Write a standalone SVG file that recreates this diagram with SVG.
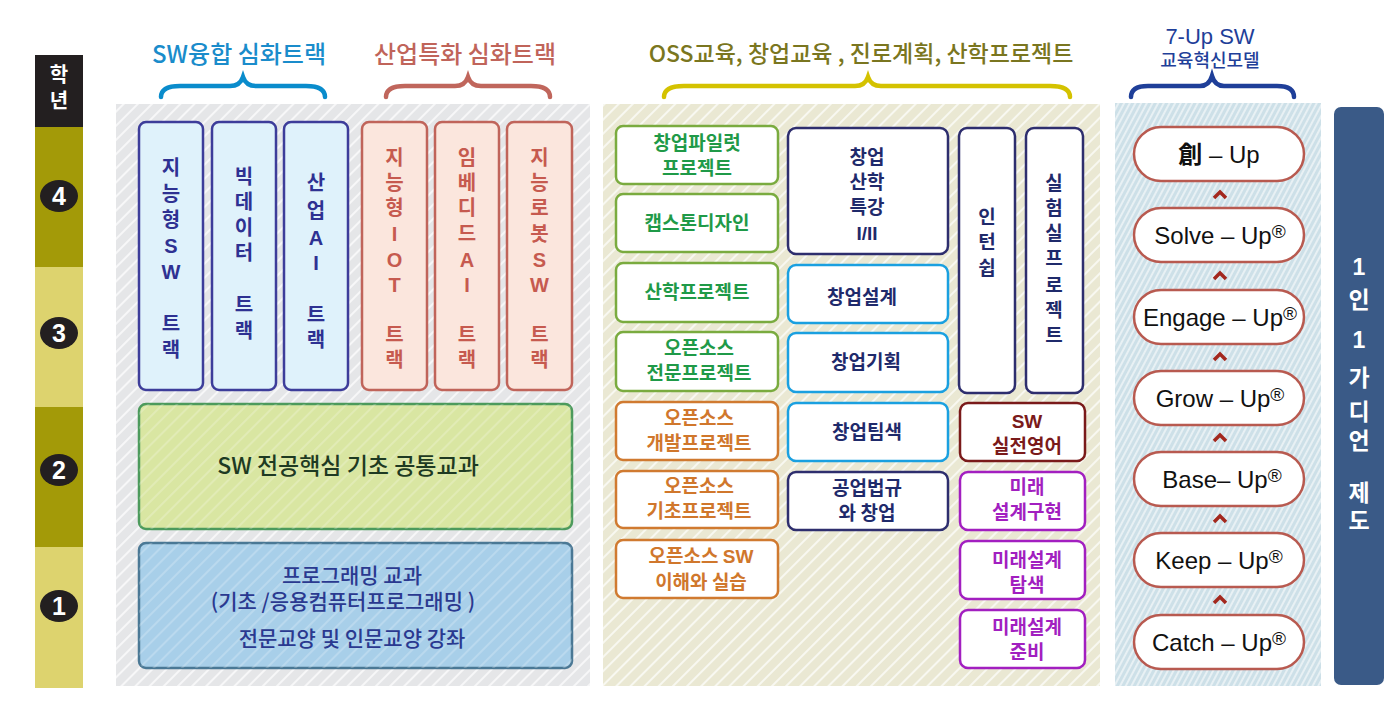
<svg xmlns="http://www.w3.org/2000/svg" width="1396" height="718" viewBox="0 0 1396 718">
<style>
text{font-family:"Noto Sans CJK KR","Liberation Sans",sans-serif;text-anchor:middle}
.lat{font-family:"Liberation Sans","Noto Sans CJK KR",sans-serif}
.hd{font-size:24px;font-weight:500}
.trk{font-size:20px;font-weight:bold}
.tb{fill:#2e3192}
.tr{fill:#c65a4f}
.bx{font-size:19px;font-weight:bold}
.g{fill:#1f9a48}
.o{fill:#d0772c}
.n{fill:#1f2a6b}
.m{fill:#7a1a1a}
.p{fill:#a21fc0}
.rg{fill:#fff;stroke:#7aab3f;stroke-width:2.5}
.ro{fill:#fff;stroke:#d07a30;stroke-width:2.5}
.rn{fill:#fff;stroke:#2e2e6e;stroke-width:2.5}
.rc{fill:#fff;stroke:#1aa0e0;stroke-width:2.5}
.rm{fill:#fff;stroke:#7a1a1a;stroke-width:2.5}
.rp{fill:#fff;stroke:#a21fc0;stroke-width:2.5}
.pill{fill:#fff;stroke:#b85a50;stroke-width:2.5}
.pt{font-family:"Liberation Sans","Noto Sans CJK KR",sans-serif;font-size:24px;fill:#111}
.reg{font-size:19px}
.chev{fill:none;stroke:#a3281e;stroke-width:3.5}
.brace{fill:none;stroke-width:4.5;stroke-linecap:round}
.wt{fill:#fff;font-weight:bold}
</style>
<defs>
<pattern id="hg" width="10" height="10" patternUnits="userSpaceOnUse" patternTransform="rotate(45)"><rect width="10" height="10" fill="#e5e6e8"/><line x1="1" y1="0" x2="1" y2="10" stroke="#fff" stroke-width="1.4"/></pattern>
<pattern id="hy" width="10" height="10" patternUnits="userSpaceOnUse" patternTransform="rotate(45)"><rect width="10" height="10" fill="#eae8d3"/><line x1="1" y1="0" x2="1" y2="10" stroke="#fff" stroke-width="1.4"/></pattern>
<pattern id="hb" width="5" height="10" patternUnits="userSpaceOnUse" patternTransform="rotate(28)"><rect width="5" height="10" fill="#cde0e8"/><line x1="1" y1="0" x2="1" y2="10" stroke="#fff" stroke-width="1.1"/></pattern>
<pattern id="hl" width="10" height="10" patternUnits="userSpaceOnUse" patternTransform="rotate(45)"><line x1="1" y1="0" x2="1" y2="10" stroke="#fff" stroke-width="1.2" stroke-opacity="0.35"/></pattern>
</defs>
<rect width="1396" height="718" fill="#fff"/>

<g id="year-column">
<rect x="35" y="55" width="48" height="72" fill="#231f20"/>
<text x="59" y="82" class="wt" style="font-size:20px">학</text>
<text x="59" y="108" class="wt" style="font-size:20px">년</text>
<rect x="35" y="127" width="48" height="140" fill="#a39a08"/>
<rect x="35" y="267" width="48" height="140" fill="#ddd36e"/>
<rect x="35" y="407" width="48" height="140" fill="#a39a08"/>
<rect x="35" y="547" width="48" height="141" fill="#ddd36e"/>
<ellipse cx="59" cy="196" rx="19" ry="16" fill="#231f20"/><text x="59" y="205" class="wt lat" style="font-size:25px">4</text>
<ellipse cx="59" cy="333" rx="19" ry="16" fill="#231f20"/><text x="59" y="342" class="wt lat" style="font-size:25px">3</text>
<ellipse cx="59" cy="470" rx="19" ry="16" fill="#231f20"/><text x="59" y="479" class="wt lat" style="font-size:25px">2</text>
<ellipse cx="59" cy="606" rx="19" ry="16" fill="#231f20"/><text x="59" y="615" class="wt lat" style="font-size:25px">1</text>
</g>

<g id="panels">
<rect x="116" y="104" width="474" height="582" fill="url(#hg)"/>
<rect x="603" y="104" width="497" height="582" fill="url(#hy)"/>
<rect x="1115" y="103" width="206" height="583" fill="url(#hb)"/>
</g>

<g id="headers">
<text x="239" y="63" class="hd" fill="#1a8ccb">SW융합 심화트랙</text>
<path class="brace" stroke="#0a8ccc" d="M161,97 Q161,86 180,86 L230,86 Q240,86 243,77 Q246,86 256,86 L306,86 Q325,86 325,97"/>
<text x="465" y="63" class="hd" fill="#c0645a">산업특화 심화트랙</text>
<path class="brace" stroke="#c0665c" d="M386,97 Q386,86 405,86 L455,86 Q465,86 468,77 Q471,86 481,86 L531,86 Q550,86 550,97"/>
<text x="861" y="62" class="hd" fill="#7a7620" style="font-size:23px">OSS교육, 창업교육 , 진로계획, 산학프로젝트</text>
<path class="brace" stroke="#d4c200" d="M664,97 Q664,86 684,86 L855,86 Q865,86 868,77 Q871,86 881,86 L1050,86 Q1070,86 1070,97"/>
<text x="1210" y="44" class="hd lat" fill="#1f3f99" style="font-size:22px">7-Up SW</text>
<text x="1210" y="67" class="hd" fill="#1f3f99" style="font-size:18px">교육혁신모델</text>
<path class="brace" stroke="#1f3f99" d="M1131,97 Q1131,86 1148,86 L1200,86 Q1209,86 1212,76 Q1215,86 1224,86 L1277,86 Q1294,86 1294,97"/>
</g>

<g id="track-intelligent-sw">
<rect x="139" y="122" width="64" height="268" rx="7" fill="#dff2fb" stroke="#3d3d9a" stroke-width="2.5"/>
<text class="trk tb"><tspan x="171" y="175">지</tspan><tspan x="171" y="201">능</tspan><tspan x="171" y="227">형</tspan><tspan x="171" y="253" class="lat">S</tspan><tspan x="171" y="279" class="lat">W</tspan><tspan x="171" y="331">트</tspan><tspan x="171" y="357">랙</tspan></text>
</g>
<g id="track-bigdata">
<rect x="212" y="122" width="64" height="268" rx="7" fill="#dff2fb" stroke="#3d3d9a" stroke-width="2.5"/>
<text class="trk tb"><tspan x="244" y="184">빅</tspan><tspan x="244" y="209">데</tspan><tspan x="244" y="235">이</tspan><tspan x="244" y="260">터</tspan><tspan x="244" y="312">트</tspan><tspan x="244" y="338">랙</tspan></text>
</g>
<g id="track-industrial-ai">
<rect x="284" y="122" width="64" height="268" rx="7" fill="#dff2fb" stroke="#3d3d9a" stroke-width="2.5"/>
<text class="trk tb"><tspan x="316" y="190">산</tspan><tspan x="316" y="218">업</tspan><tspan x="316" y="245" class="lat">A</tspan><tspan x="316" y="270" class="lat">I</tspan><tspan x="316" y="322">트</tspan><tspan x="316" y="347">랙</tspan></text>
</g>
<g id="track-iot">
<rect x="362" y="122" width="65" height="268" rx="7" fill="#fbe6dd" stroke="#c0645a" stroke-width="2.5"/>
<text class="trk tr"><tspan x="394.5" y="165">지</tspan><tspan x="394.5" y="190">능</tspan><tspan x="394.5" y="215">형</tspan><tspan x="394.5" y="241" class="lat">I</tspan><tspan x="394.5" y="267" class="lat">O</tspan><tspan x="394.5" y="292" class="lat">T</tspan><tspan x="394.5" y="342">트</tspan><tspan x="394.5" y="367">랙</tspan></text>
</g>
<g id="track-embedded-ai">
<rect x="435" y="122" width="64" height="268" rx="7" fill="#fbe6dd" stroke="#c0645a" stroke-width="2.5"/>
<text class="trk tr"><tspan x="467" y="165">임</tspan><tspan x="467" y="190">베</tspan><tspan x="467" y="215">디</tspan><tspan x="467" y="241">드</tspan><tspan x="467" y="267" class="lat">A</tspan><tspan x="467" y="292" class="lat">I</tspan><tspan x="467" y="342">트</tspan><tspan x="467" y="367">랙</tspan></text>
</g>
<g id="track-robot-sw">
<rect x="507" y="122" width="65" height="268" rx="7" fill="#fbe6dd" stroke="#c0645a" stroke-width="2.5"/>
<text class="trk tr"><tspan x="539.5" y="165">지</tspan><tspan x="539.5" y="190">능</tspan><tspan x="539.5" y="215">로</tspan><tspan x="539.5" y="241">봇</tspan><tspan x="539.5" y="267" class="lat">S</tspan><tspan x="539.5" y="292" class="lat">W</tspan><tspan x="539.5" y="342">트</tspan><tspan x="539.5" y="367">랙</tspan></text>
</g>

<g id="sw-core-common">
<rect x="139" y="404" width="433" height="125" rx="7" fill="#d9e6a2" stroke="#4c9a5c" stroke-width="2.5"/>
<rect x="139" y="404" width="433" height="125" rx="7" fill="url(#hl)"/>
<text x="348" y="474" style="font-size:23px;font-weight:500" fill="#1e3a22">SW 전공핵심 기초 공통교과</text>
</g>
<g id="programming">
<rect x="139" y="543" width="433" height="125" rx="7" fill="#a8cfe9" stroke="#4a7895" stroke-width="2.5"/>
<rect x="139" y="543" width="433" height="125" rx="7" fill="url(#hl)"/>
<text x="352" y="583" style="font-size:21px;font-weight:500" fill="#2a3990">프로그래밍 교과</text>
<text x="343" y="609" style="font-size:21px;font-weight:500" fill="#2a3990">(기초 /응용컴퓨터프로그래밍 )</text>
<text x="352" y="646" style="font-size:21px;font-weight:500" fill="#2a3990">전문교양 및 인문교양 강좌</text>
</g>

<g id="startup-pilot"><rect x="616" y="126" width="162" height="58" rx="7" class="rg"/><text class="bx g"><tspan x="697" y="150">창업파일럿</tspan><tspan x="697" y="175">프로젝트</tspan></text></g>
<g id="capstone"><rect x="616" y="194" width="162" height="58" rx="7" class="rg"/><text x="697" y="230" class="bx g">캡스톤디자인</text></g>
<g id="industry-project"><rect x="616" y="263" width="162" height="59" rx="7" class="rg"/><text x="697" y="299" class="bx g">산학프로젝트</text></g>
<g id="oss-pro"><rect x="616" y="332" width="162" height="59" rx="7" class="rg"/><text class="bx g"><tspan x="699" y="355">오픈소스</tspan><tspan x="699" y="380">전문프로젝트</tspan></text></g>
<g id="oss-dev"><rect x="616" y="402" width="162" height="58" rx="7" class="ro"/><text class="bx o"><tspan x="699" y="425">오픈소스</tspan><tspan x="699" y="450">개발프로젝트</tspan></text></g>
<g id="oss-basic"><rect x="616" y="471" width="162" height="57" rx="7" class="ro"/><text class="bx o"><tspan x="699" y="493">오픈소스</tspan><tspan x="699" y="518">기초프로젝트</tspan></text></g>
<g id="oss-sw"><rect x="616" y="540" width="162" height="58" rx="7" class="ro"/><text class="bx o"><tspan x="701" y="563">오픈소스 <tspan class="lat">SW</tspan></tspan><tspan x="701" y="589">이해와  실습</tspan></text></g>

<g id="startup-lecture"><rect x="788" y="128" width="160" height="126" rx="8" class="rn"/><text class="bx n"><tspan x="867" y="164">창업</tspan><tspan x="867" y="189">산학</tspan><tspan x="867" y="214">특강</tspan><tspan x="867" y="240" class="lat">I/II</tspan></text></g>
<g id="startup-design"><rect x="788" y="265" width="160" height="58" rx="8" class="rc"/><text x="862" y="304" class="bx n">창업설계</text></g>
<g id="startup-plan"><rect x="788" y="333" width="160" height="59" rx="8" class="rc"/><text x="866" y="369" class="bx n">창업기획</text></g>
<g id="startup-team"><rect x="788" y="403" width="160" height="58" rx="8" class="rc"/><text x="867" y="439" class="bx n">창업팀색</text></g>
<g id="law-startup"><rect x="788" y="472" width="160" height="58" rx="8" class="rn"/><text class="bx n"><tspan x="867" y="495">공업법규</tspan><tspan x="867" y="520">와 창업</tspan></text></g>

<g id="internship"><rect x="959" y="128" width="56" height="265" rx="8" class="rn"/><text class="bx n"><tspan x="987" y="224">인</tspan><tspan x="987" y="249">턴</tspan><tspan x="987" y="275">쉽</tspan></text></g>
<g id="lab-project"><rect x="1026" y="128" width="57" height="265" rx="8" class="rn"/><text class="bx n"><tspan x="1054" y="190">실</tspan><tspan x="1054" y="215">험</tspan><tspan x="1054" y="240">실</tspan><tspan x="1054" y="265">프</tspan><tspan x="1054" y="292">로</tspan><tspan x="1054" y="317">젝</tspan><tspan x="1054" y="342">트</tspan></text></g>
<g id="sw-english"><rect x="960" y="403" width="125" height="58" rx="8" class="rm"/><text class="bx m"><tspan x="1027" y="428" class="lat">SW</tspan><tspan x="1027" y="453">실전영어</tspan></text></g>
<g id="future-impl"><rect x="960" y="472" width="125" height="58" rx="8" class="rp"/><text class="bx p"><tspan x="1027" y="494">미래</tspan><tspan x="1027" y="519">설계구현</tspan></text></g>
<g id="future-explore"><rect x="960" y="541" width="125" height="58" rx="8" class="rp"/><text class="bx p"><tspan x="1027" y="567">미래설계</tspan><tspan x="1027" y="592">탐색</tspan></text></g>
<g id="future-prep"><rect x="960" y="610" width="125" height="58" rx="8" class="rp"/><text class="bx p"><tspan x="1027" y="634">미래설계</tspan><tspan x="1027" y="659">준비</tspan></text></g>

<g id="up-chang"><rect x="1134" y="127" width="170" height="54" rx="27" class="pill"/><text x="1219" y="163" class="pt"><tspan style="font-family:'Noto Sans CJK KR',sans-serif;font-weight:bold">創</tspan> – Up</text></g>
<g id="up-solve"><rect x="1134" y="208" width="170" height="54" rx="27" class="pill"/><text x="1220" y="244" class="pt">Solve – Up<tspan class="reg" dy="-6">®</tspan></text></g>
<g id="up-engage"><rect x="1134" y="290" width="170" height="54" rx="27" class="pill"/><text x="1220" y="326" class="pt">Engage – Up<tspan class="reg" dy="-6">®</tspan></text></g>
<g id="up-grow"><rect x="1134" y="371" width="170" height="54" rx="27" class="pill"/><text x="1220" y="407" class="pt">Grow – Up<tspan class="reg" dy="-6">®</tspan></text></g>
<g id="up-base"><rect x="1134" y="452" width="170" height="54" rx="27" class="pill"/><text x="1222" y="488" class="pt">Base– Up<tspan class="reg" dy="-6">®</tspan></text></g>
<g id="up-keep"><rect x="1134" y="533" width="170" height="54" rx="27" class="pill"/><text x="1219" y="569" class="pt">Keep – Up<tspan class="reg" dy="-6">®</tspan></text></g>
<g id="up-catch"><rect x="1134" y="615" width="170" height="54" rx="27" class="pill"/><text x="1219" y="651" class="pt">Catch – Up<tspan class="reg" dy="-6">®</tspan></text></g>

<g id="connectors">
<path class="chev" d="M1214,198 L1220,192 L1226,198"/>
<path class="chev" d="M1214,279 L1220,273 L1226,279"/>
<path class="chev" d="M1214,360 L1220,354 L1226,360"/>
<path class="chev" d="M1214,441 L1220,435 L1226,441"/>
<path class="chev" d="M1214,522 L1220,516 L1226,522"/>
<path class="chev" d="M1214,603 L1220,597 L1226,603"/>
</g>

<g id="guardian">
<rect x="1334" y="107" width="50" height="578" rx="7" fill="#3a5a87"/>
<text class="wt" style="font-size:23px"><tspan x="1359" y="275" class="lat">1</tspan><tspan x="1359" y="308">인</tspan><tspan x="1359" y="348" class="lat">1</tspan><tspan x="1359" y="386">가</tspan><tspan x="1359" y="420">디</tspan><tspan x="1359" y="449">언</tspan><tspan x="1359" y="501">제</tspan><tspan x="1359" y="529">도</tspan></text>
</g>
</svg>
